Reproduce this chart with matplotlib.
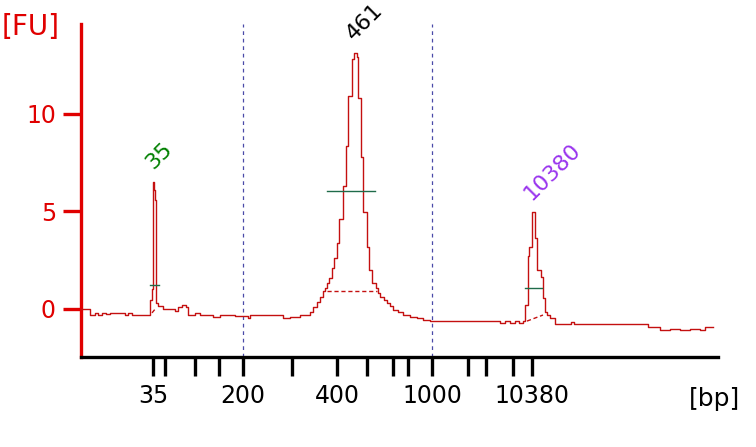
import matplotlib
matplotlib.use("Agg")
import matplotlib.pyplot as plt

# ladder sizes (bp) and their migration times (s)
ladder_bp = [35, 50, 100, 150, 200, 300, 400, 500, 600, 700, 1000, 2000, 3000, 7000, 10380]
ladder_time = [47.2, 48.4, 51.4, 53.8, 56.2, 61.1, 65.6, 68.6, 71.2, 72.7, 75.1, 78.7, 80.5, 83.2, 85.1]
labelled_bp = [35, 200, 400, 1000, 10380]
marker_bp = [200, 1000]

# electropherogram trace
trace_time = [40.0, 40.9, 41.4, 41.7, 42.1, 42.5, 42.9, 43.9, 44.4, 44.7, 45.1, 45.9,
              46.9, 47.1, 47.2, 47.3, 47.4, 47.5, 47.7, 48.2, 48.9, 49.4, 49.7, 50.1,
              50.5, 50.7, 51.4, 51.9, 53.2, 53.9, 55.4, 56.7, 56.9, 60.2, 60.9, 61.9,
              62.9, 63.2, 63.6, 63.9, 64.2, 64.4, 64.6, 64.8, 65.1, 65.3, 65.6, 65.8,
              66.2, 66.5, 66.7, 67.1, 67.3, 67.6, 67.7, 68.0, 68.2, 68.6, 68.8, 69.1,
              69.5, 69.7, 69.9, 70.3, 70.6, 70.9, 71.2, 71.7, 72.2, 72.9, 73.6, 74.2,
              74.9, 81.9, 82.4, 82.9, 83.4, 83.8, 84.2, 84.4, 84.7, 84.8, 85.1, 85.3,
              85.4, 85.6, 86.0, 86.2, 86.4, 86.6, 86.9, 87.4, 89.0, 89.3, 96.7, 97.9,
              98.9, 99.9, 100.9, 101.9, 102.4, 103.2]
trace_fu = [0.0, -0.3, -0.2, -0.3, -0.2, -0.25, -0.2, -0.2, -0.3, -0.2, -0.3, -0.3,
            0.45, 1.0, 6.5, 6.1, 5.6, 0.3, 0.15, 0.0, 0.0, -0.1, 0.1, 0.2,
            0.1, -0.3, -0.2, -0.3, -0.4, -0.3, -0.35, -0.45, -0.3, -0.45, -0.4, -0.3,
            -0.15, 0.1, 0.35, 0.6, 0.9, 1.1, 1.35, 1.6, 2.1, 2.6, 3.4, 4.6,
            6.3, 8.35, 10.9, 12.8, 13.1, 12.9, 10.8, 7.8, 4.95, 3.2, 2.0, 1.35,
            1.1, 0.8, 0.6, 0.45, 0.3, 0.15, -0.05, -0.15, -0.3, -0.4, -0.45, -0.55,
            -0.6, -0.7, -0.6, -0.7, -0.6, -0.7, -0.6, 0.2, 2.7, 3.15, 4.95, 4.95,
            3.65, 2.0, 1.65, 0.55, -0.15, -0.3, -0.45, -0.75, -0.65, -0.75, -0.9, -1.1,
            -1.0, -1.1, -1.0, -1.1, -0.9, -0.9]

# called peaks
peak_labels = ["35", "461", "10380"]
peak_time = [47.2, 67.3, 85.1]
peak_fu = [6.5, 13.1, 4.95]
peak_colors = ["#008000", "#000000", "#9933ee"]

# peak width markers (green) and baselines (dashed)
width_t0 = [46.9, 64.6, 84.4]
width_t1 = [47.8, 69.4, 86.1]
width_fu = [1.24, 6.03, 1.08]
base_t0 = [47.1, 64.6, 84.6]
base_t1 = [47.5, 69.6, 86.2]
base_fu0 = [-0.2, 0.93, -0.62]
base_fu1 = [0.05, 0.93, -0.31]

fig = plt.figure(figsize=(7.56, 4.47), dpi=100)
ax = fig.add_axes([81 / 756, 1 - 357 / 447, 637 / 756, 333 / 447])
plt.rcParams['font.family'] = ['DejaVu Sans']

for bp in marker_bp:
    ax.axvline(ladder_time[ladder_bp.index(bp)], color="#4a4aa8", lw=0.9, ls=(0, (3, 3)), zorder=1)

ax.plot(trace_time, trace_fu, color="#c41010", lw=1.0, drawstyle="steps-post", zorder=3)

for i in range(len(peak_labels)):
    ax.plot([width_t0[i], width_t1[i]], [width_fu[i], width_fu[i]], color="#1f6b4a", lw=1.0, zorder=4)
    ax.plot([base_t0[i], base_t1[i]], [base_fu0[i], base_fu1[i]], color="#c41010", lw=1.0,
            ls=(0, (3, 2)), zorder=2)
    ax.annotate(peak_labels[i], (peak_time[i], peak_fu[i]), xytext=(0, 8.5), textcoords="offset points",
                rotation=45, rotation_mode="anchor", ha="left", va="baseline",
                color=peak_colors[i], fontsize=16, annotation_clip=False)

ax.set_xlim(40, 103.7)
ax.set_ylim(-2.46, 14.6)

for s in ["top", "right"]:
    ax.spines[s].set_visible(False)
ax.spines["left"].set_color("#e00000")
ax.spines["left"].set_linewidth(2.4)
ax.spines["bottom"].set_color("black")
ax.spines["bottom"].set_linewidth(2.4)

ax.set_yticks([0, 5, 10])
ax.set_yticklabels(["0", "5", "10"])
ax.tick_params(axis="y", colors="#e00000", length=13, width=2.4, labelsize=17, pad=5)

ax.set_xticks(ladder_time)
ax.set_xticklabels([str(b) if b in labelled_bp else "" for b in ladder_bp])
ax.tick_params(axis="x", colors="black", length=13.5, width=2.4, labelsize=17, pad=6)

fig.text(2 / 756, 1 - 27 / 447, "[FU]", color="#e00000", fontsize=20, va="center", ha="left")
fig.text(740 / 756, 1 - 399 / 447, "[bp]", color="black", fontsize=18, va="center", ha="right")

fig.savefig("out.png", dpi=100)
